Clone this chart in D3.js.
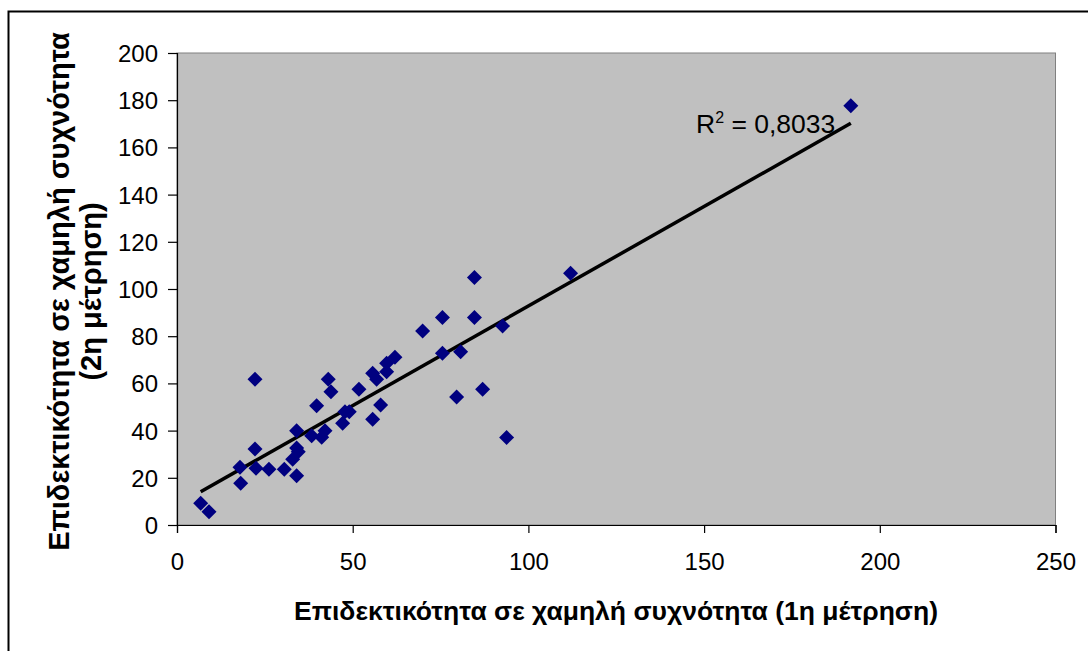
<!DOCTYPE html>
<html>
<head>
<meta charset="utf-8">
<script src="https://cdn.jsdelivr.net/npm/d3@7"></script>
<style>
  html, body { margin: 0; padding: 0; background: #fff; }
  svg { display: block; }
  text { font-family: "Liberation Sans", Arial, sans-serif; fill: #000; }
</style>
</head>
<body>
<svg id="chart" width="1088" height="651"></svg>
<script>
// ---- data ----
const xValues = [6.74, 9.10, 22.19, 17.92, 18.12, 22.19, 22.48, 26.17, 30.53, 32.92,
  34.05, 34.5, 34.05, 34.05, 38.32, 39.74, 41.17, 42.11, 43.04, 43.81,
  47.14, 47.80, 49.02, 51.78, 55.68, 56.81, 55.68, 57.95, 59.66, 59.66,
  62.02, 69.90, 75.53, 75.53, 79.57, 80.71, 84.64, 84.64, 86.97, 92.66,
  93.80, 112.0, 191.75];
const yValues = [9.19, 5.64, 61.74, 24.45, 17.67, 32.20, 24.03, 23.60, 23.60, 27.84,
  32.6, 31.0, 20.89, 39.96, 37.84, 50.55, 37.16, 39.96, 61.74, 56.48,
  43.09, 48.0, 48.0, 57.50, 64.28, 61.74, 44.79, 50.85, 68.52, 64.96,
  71.06, 82.20, 87.92, 72.75, 54.24, 73.43, 104.87, 87.92, 57.50, 84.32,
  37.08, 106.65, 177.67];
const trendX = [6.74, 191.75];
const trendY = [14.1, 170.2];
const xTicks = [0, 50, 100, 150, 200, 250];
const yTicks = [0, 20, 40, 60, 80, 100, 120, 140, 160, 180, 200];
const r2Label = "0,8033";
const xTitle = "Επιδεκτικότητα σε χαμηλή συχνότητα (1η μέτρηση)";
const yTitleLines = ["Επιδεκτικότητα σε χαμηλή συχνότητα", "(2η μέτρηση)"];

// ---- layout ----
const svg = d3.select("#chart");
const plot = { left: 177, top: 53, right: 1055.5, bottom: 525 };

const x = d3.scaleLinear().domain([0, 250]).range([plot.left, plot.right]);
const y = d3.scaleLinear().domain([0, 200]).range([plot.bottom, plot.top]);

// outer frame
svg.append("rect")
  .attr("x", 8.5).attr("y", 11.5)
  .attr("width", 1100).attr("height", 700)
  .attr("fill", "#fff").attr("stroke", "#000").attr("stroke-width", 2);

// plot area
svg.append("rect")
  .attr("x", plot.left).attr("y", plot.top)
  .attr("width", plot.right - plot.left).attr("height", plot.bottom - plot.top)
  .attr("fill", "#c0c0c0").attr("stroke", "#808080").attr("stroke-width", 1);

// axes
const xAxis = d3.axisBottom(x).tickValues(xTicks).tickSize(8).tickPadding(20).tickFormat(d3.format("d"));
const yAxis = d3.axisLeft(y).tickValues(yTicks).tickSize(9).tickPadding(10).tickFormat(d3.format("d"));

const gx = svg.append("g").attr("transform", `translate(0,${plot.bottom})`).call(xAxis);
const gy = svg.append("g").attr("transform", `translate(${plot.left},0)`).call(yAxis);
[gx, gy].forEach(g => {
  g.select(".domain").attr("stroke", "#000").attr("stroke-width", 1.2);
  g.selectAll(".tick line").attr("stroke", "#000").attr("stroke-width", 1.2);
  g.selectAll(".tick text")
    .attr("font-family", "'Liberation Sans', Arial, sans-serif")
    .attr("font-size", 24).attr("fill", "#000");
});
gy.selectAll(".tick text").attr("dy", "0.35em");
gx.selectAll(".tick text").attr("dy", "0.71em");

// trend line
svg.append("line")
  .attr("x1", x(trendX[0])).attr("y1", y(trendY[0]))
  .attr("x2", x(trendX[1])).attr("y2", y(trendY[1]))
  .attr("stroke", "#000").attr("stroke-width", 3.5);

// points (diamonds)
const diamond = "M0,-7.5L7.5,0L0,7.5L-7.5,0Z";
svg.append("g").selectAll("path")
  .data(xValues.map((v, i) => [v, yValues[i]]))
  .join("path")
  .attr("d", diamond)
  .attr("transform", d => `translate(${x(d[0])},${y(d[1])})`)
  .attr("fill", "#000080");

// R² label
const r2 = svg.append("text")
  .attr("x", 696).attr("y", 133)
  .attr("font-size", 26.5);
r2.append("tspan").text("R");
r2.append("tspan").attr("dy", -10).attr("font-size", 16).text("2");
r2.append("tspan").attr("dy", 10).text(" = " + r2Label);

// x title
svg.append("text")
  .attr("x", 616).attr("y", 620)
  .attr("text-anchor", "middle")
  .attr("font-size", 26.5).attr("font-weight", "bold")
  .text(xTitle);

// y title
const yt = svg.append("text")
  .attr("transform", `translate(69,291.5) rotate(-90)`)
  .attr("text-anchor", "middle")
  .attr("font-size", 29).attr("font-weight", "bold");
yTitleLines.forEach((t, i) => {
  yt.append("tspan").attr("x", 0).attr("y", i * 32).text(t);
});
</script>
</body>
</html>
